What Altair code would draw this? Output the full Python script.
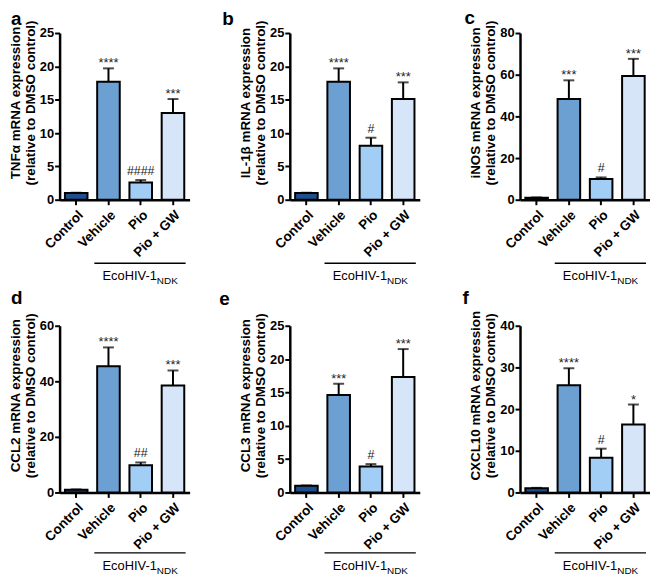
import altair as alt
import pandas as pd

FONT = "Liberation Sans"

categories = ["Control", "Vehicle", "Pio", "Pio + GW"]
bar_colors = ["#1c4f8c", "#6ca0d2", "#a2cdf5", "#d6e6f8"]

letters = ["a", "b", "c", "d", "e", "f"]
genes = ["TNFα", "IL-1β", "iNOS", "CCL2", "CCL3", "CXCL10"]
y_max = [25, 25, 80, 60, 25, 40]
y_step = [5, 5, 20, 20, 5, 10]

tnf_mean = [1.0, 17.7, 2.6, 13.0]
tnf_err = [0.05, 2.0, 0.35, 2.1]
il1b_mean = [1.0, 17.7, 8.1, 15.1]
il1b_err = [0.05, 2.0, 1.2, 2.5]
inos_mean = [1.0, 48.3, 10.0, 59.4]
inos_err = [0.1, 9.0, 0.7, 8.2]
ccl2_mean = [1.0, 45.4, 9.8, 38.5]
ccl2_err = [0.1, 6.8, 1.0, 5.4]
ccl3_mean = [1.0, 14.6, 3.9, 17.3]
ccl3_err = [0.05, 1.7, 0.35, 4.2]
cxcl10_mean = [1.0, 25.7, 8.3, 16.3]
cxcl10_err = [0.1, 4.1, 2.2, 4.8]

tnf_sig = ["", "****", "####", "***"]
il1b_sig = ["", "****", "#", "***"]
inos_sig = ["", "***", "#", "***"]
ccl2_sig = ["", "****", "##", "***"]
ccl3_sig = ["", "***", "#", "***"]
cxcl10_sig = ["", "****", "#", "*"]

means = [tnf_mean, il1b_mean, inos_mean, ccl2_mean, ccl3_mean, cxcl10_mean]
errs = [tnf_err, il1b_err, inos_err, ccl2_err, ccl3_err, cxcl10_err]
sigs = [tnf_sig, il1b_sig, inos_sig, ccl2_sig, ccl3_sig, cxcl10_sig]

letter_pos = [(-49, -8), (-68, -8), (-56, -9), (-49, -22), (-71, -21), (-58, -22)]

W, H = 131, 168


def panel(i):
    mean, err, sig = means[i], errs[i], sigs[i]
    df = pd.DataFrame({
        "group": categories,
        "mean": mean,
        "top": [m + e for m, e in zip(mean, err)],
        "stars": [s if "*" in s else "" for s in sig],
        "hash": [s if "#" in s else "" for s in sig],
    })
    one = pd.DataFrame({"k": [0]})
    base = alt.Chart(df)
    x = alt.X(
        "group:N", sort=categories,
        scale=alt.Scale(paddingInner=0.3, paddingOuter=0.165),
        axis=alt.Axis(title=None, labelAngle=-45, labelAlign="right", labelBaseline="top",
                      labelFont=FONT, labelFontSize=13.5, labelFontWeight="bold", labelColor="black",
                      labelPadding=3, labelOverlap=False, domainColor="black", domainWidth=2.5,
                      tickColor="black", tickWidth=2, tickSize=5),
    )
    yscale = alt.Scale(domain=[0, y_max[i]], nice=False, zero=True)
    yaxis = alt.Axis(
        title=[f"{genes[i]} mRNA expression", "(relative to DMSO control)"],
        values=list(range(0, y_max[i] + 1, y_step[i])),
        grid=False, labelFont=FONT, labelFontSize=13, labelFontWeight="bold", labelColor="black",
        labelPadding=1, labelOverlap=False, labelFlush=False, domainColor="black", domainWidth=2.5,
        tickColor="black", tickWidth=2,
        tickSize=5, titleFont=FONT, titleFontSize=13.5, titleFontWeight="bold", titleColor="black",
        titlePadding=2, titleLineHeight=15, titleY=70,
    )

    def Y(field):
        return alt.Y(field, scale=yscale, axis=yaxis, title=yaxis.title)

    rule = base.mark_rule(color="black", strokeWidth=2).encode(
        x=x, y=Y("mean:Q"), y2="top:Q")
    cap = base.mark_tick(color="black", thickness=2, size=11, orient="horizontal").encode(
        x=x, y=Y("top:Q"))
    bars = base.mark_bar(stroke="black", strokeWidth=2).encode(
        x=x, y=Y("mean:Q"),
        color=alt.Color("group:N", scale=alt.Scale(domain=categories, range=bar_colors), legend=None))
    stars = base.mark_text(font=FONT, fontSize=13, baseline="alphabetic", dy=-1, color="#222").encode(
        x=x, y=Y("top:Q"), text="stars:N")
    hashes = base.mark_text(font=FONT, fontSize=12.5, baseline="alphabetic", dy=-5, color="#222").encode(
        x=x, y=Y("top:Q"), text="hash:N")
    row = i // 3
    ry = 232 if row == 0 else 229
    bracket = alt.Chart(one).mark_rule(color="black", strokeWidth=1.3).encode(
        x=alt.value(35), x2=alt.value(127), y=alt.value(ry))
    eco = alt.Chart(one).mark_text(text="EcoHIV-1", font=FONT, fontSize=13, align="right",
                                   baseline="alphabetic").encode(x=alt.value(98), y=alt.value(ry + 17))
    ndk = alt.Chart(one).mark_text(text="NDK", font=FONT, fontSize=10, align="left",
                                   baseline="alphabetic").encode(x=alt.value(98), y=alt.value(ry + 21))
    lx, ly = letter_pos[i]
    letter = alt.Chart(one).mark_text(text=letters[i], font=FONT, fontSize=19, fontWeight="bold",
                                      align="left", baseline="alphabetic").encode(
        x=alt.value(lx), y=alt.value(ly))
    return alt.layer(rule, cap, bars, stars, hashes, bracket, eco, ndk, letter).properties(
        width=W, height=H)


panels = [panel(i) for i in range(6)]

chart = alt.concat(*panels, columns=3, spacing=alt.RowColnumber(row=127, column=101), bounds="flush").properties(
    padding={"left": 0, "top": -1, "right": 0, "bottom": 0}
).configure_view(stroke=None)

chart.save("out.html", embed_options={"renderer": "svg", "actions": False})
